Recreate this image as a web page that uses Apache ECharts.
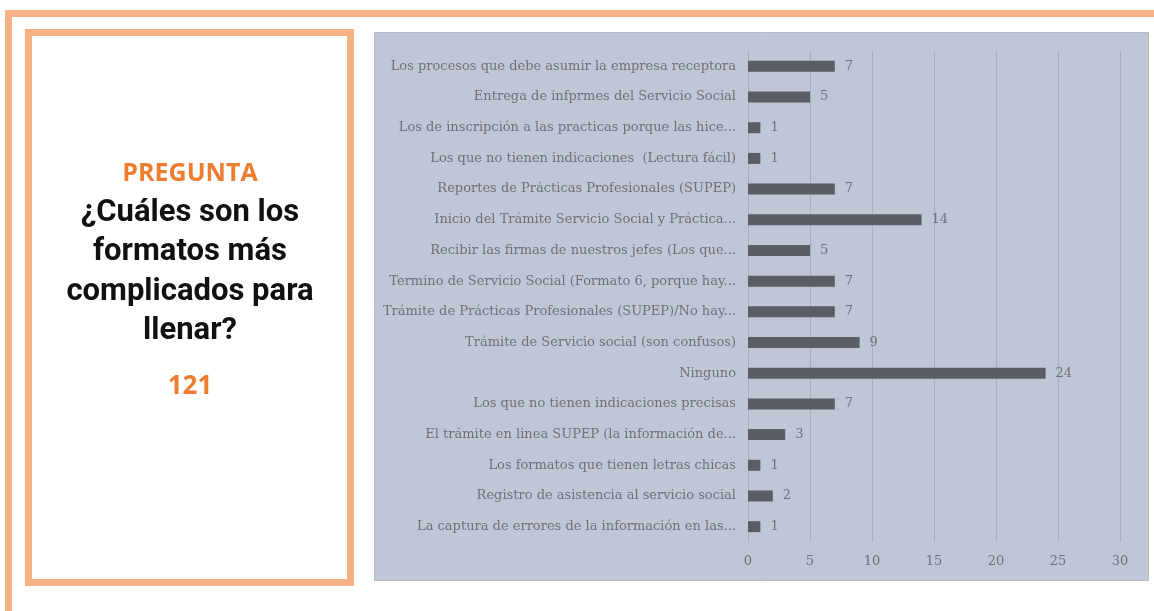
<!DOCTYPE html>
<html>
<head>
<meta charset="utf-8">
<script src="https://cdn.jsdelivr.net/npm/echarts@6/dist/echarts.min.js"></script>
<style>
  html, body { margin: 0; padding: 0; background: #fff; }
  #chart { width: 1154px; height: 611px; }
</style>
</head>
<body>
<div id="chart"></div>
<script>
// categorias de arriba hacia abajo (tal como aparecen)
const categories = [
  'Los procesos que debe asumir la empresa receptora',
  'Entrega de infprmes del Servicio Social',
  'Los de inscripción a las practicas porque las hice...',
  'Los que no tienen indicaciones  (Lectura fácil)',
  'Reportes de Prácticas Profesionales (SUPEP)',
  'Inicio del Trámite Servicio Social y Práctica...',
  'Recibir las firmas de nuestros jefes (Los que...',
  'Termino de Servicio Social (Formato 6, porque hay...',
  'Trámite de Prácticas Profesionales (SUPEP)/No hay...',
  'Trámite de Servicio social (son confusos)',
  'Ninguno',
  'Los que no tienen indicaciones precisas',
  'El trámite en linea SUPEP (la información de...',
  'Los formatos que tienen letras chicas',
  'Registro de asistencia al servicio social',
  'La captura de errores de la información en las...'
];
const values = [7, 5, 1, 1, 7, 14, 5, 7, 7, 9, 24, 7, 3, 1, 2, 1];
const xTicks = { min: 0, max: 30, interval: 5 };

const questionTitle = 'PREGUNTA';
const questionLines = ['¿Cuáles son los', 'formatos más', 'complicados para', 'llenar?'];
const totalAnswers = '121';

const chartDom = document.getElementById('chart');
const myChart = echarts.init(chartDom, null, { renderer: 'canvas' });

const orange = '#f5b183';
const serif = '"DejaVu Serif", serif';

// marcos naranjas y panel gris del grafico
const graphics = [
  { type: 'rect', z: -10, shape: { x: 5, y: 10, width: 1149, height: 7 }, style: { fill: orange } },
  { type: 'rect', z: -10, shape: { x: 5, y: 10, width: 7, height: 601 }, style: { fill: orange } },
  { type: 'rect', z: -10, shape: { x: 28.5, y: 32.5, width: 322, height: 550 },
    style: { fill: '#fff', stroke: orange, lineWidth: 7 } },
  { type: 'rect', z: -10, shape: { x: 374.5, y: 32.5, width: 774, height: 548 },
    style: { fill: '#c0c6d6', stroke: '#b3b9c9', lineWidth: 1 } },
  { type: 'text', z: 10, style: {
      text: questionTitle, x: 190, y: 174, align: 'center', verticalAlign: 'middle',
      fill: '#ed7d31', font: 'bold 25px "Open Sans", Roboto, sans-serif' } }
];
// texto de la pregunta, una linea por elemento
questionLines.forEach((line, i) => {
  graphics.push({ type: 'text', z: 10, style: {
    text: line, x: 190, y: 213 + i * 39.5, align: 'center', verticalAlign: 'middle',
    fill: '#111', font: 'bold 31px Roboto, "Noto Sans", sans-serif' } });
});
graphics.push({ type: 'text', z: 10, style: {
  text: totalAnswers, x: 190, y: 387, align: 'center', verticalAlign: 'middle',
  fill: '#ed7d31', font: 'bold 26px "Open Sans", Roboto, sans-serif',
  shadowColor: 'rgba(0,0,0,0.35)', shadowBlur: 2, shadowOffsetX: 1, shadowOffsetY: 1 } });

const option = {
  animation: false,
  graphic: { elements: graphics },
  grid: { left: 748, right: 34, top: 51, bottom: 69 },
  xAxis: {
    type: 'value',
    min: xTicks.min, max: xTicks.max, interval: xTicks.interval,
    axisLine: { show: false },
    axisTick: { show: false },
    axisLabel: { color: '#6e717a', fontFamily: serif, fontSize: 13, margin: 13 },
    splitLine: { lineStyle: { color: '#a8aebd', width: 1 } }
  },
  yAxis: {
    type: 'category',
    inverse: true,
    data: categories,
    axisLine: { show: true, lineStyle: { color: '#a8aebd' } },
    axisTick: { show: false },
    axisLabel: { color: '#6e717a', fontFamily: serif, fontSize: 13, margin: 12 }
  },
  series: [
    {
      type: 'bar',
      data: values,
      barWidth: 11,
      itemStyle: { color: '#595d66' },
      label: { show: true, position: 'right', distance: 10, color: '#6e717a',
               fontFamily: serif, fontSize: 13 }
    }
  ]
};
option && myChart.setOption(option);
</script>
</body>
</html>
